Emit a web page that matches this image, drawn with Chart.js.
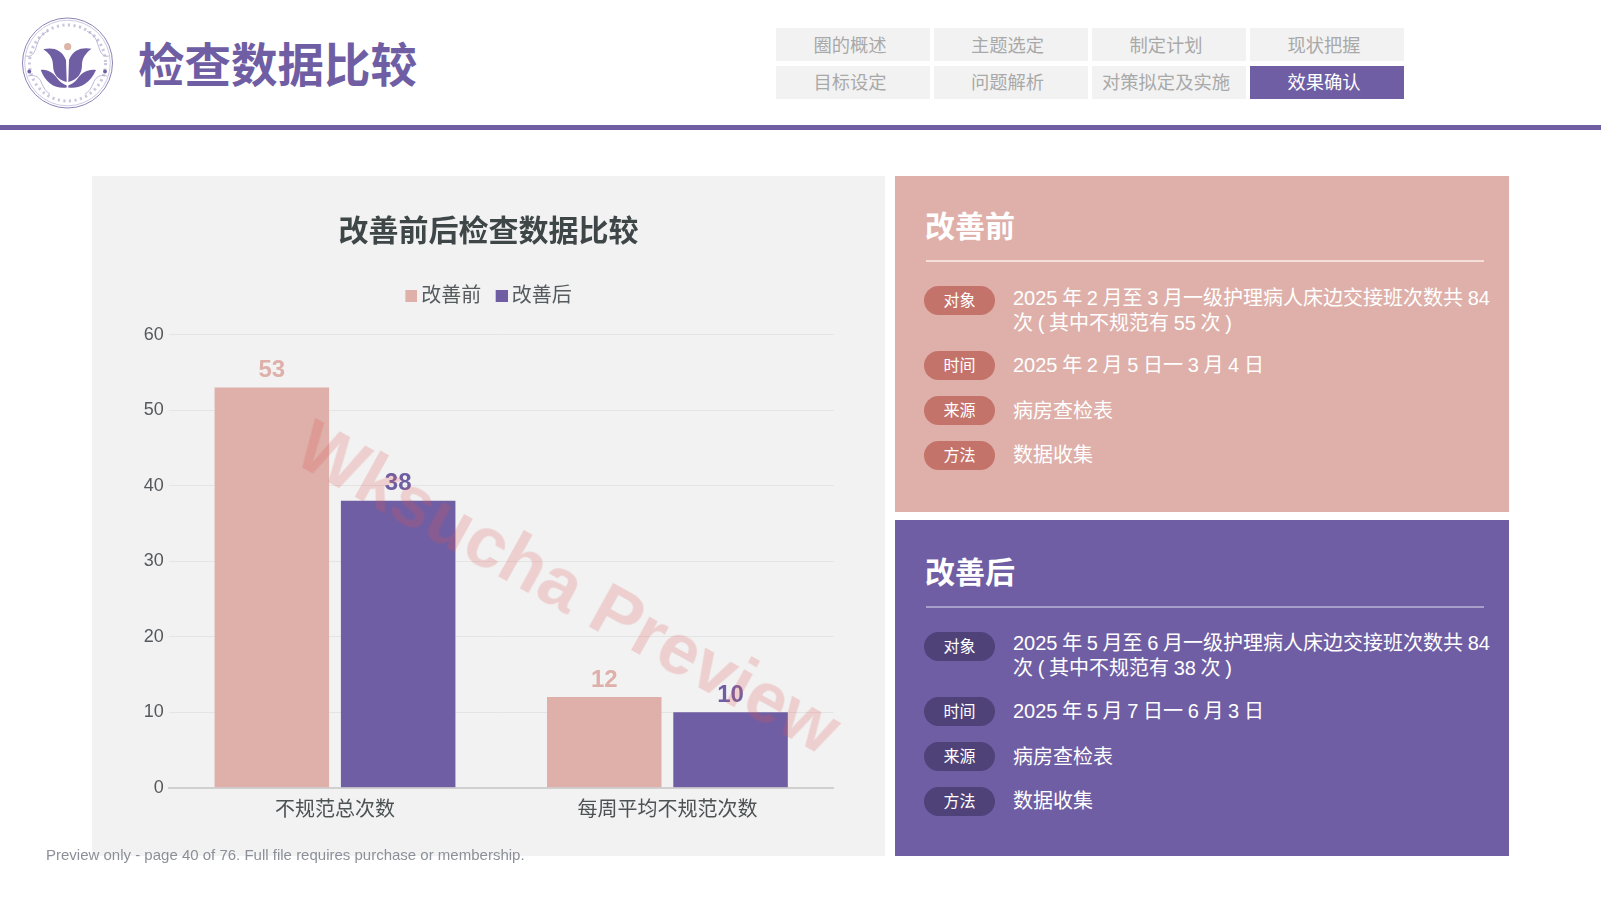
<!DOCTYPE html>
<html lang="zh"><head><meta charset="utf-8"><title>检查数据比较</title>
<script src="https://cdn.jsdelivr.net/npm/chart.js@4"></script>
<style>
*{box-sizing:border-box}
html,body{margin:0;padding:0;background:#fff;width:1601px;height:900px;overflow:hidden;font-family:"Liberation Sans","Noto Sans CJK SC",sans-serif}
.abs{position:absolute}
#h1{left:138px;top:33px;font-size:46.5px;line-height:66px;font-weight:700;color:#6f5ea3;white-space:nowrap}
#rule{left:0;top:125px;width:1601px;height:5px;background:#6f5ea3}
.tab{position:absolute;width:154px;height:33.5px;background:#f2f2f2;color:#a9a9a9;font-size:18.3px;text-align:center;white-space:nowrap;padding-right:6px}
.tab.on{background:#6f5ea3;color:#fff}
#panel{left:92px;top:176px;width:793px;height:680px;background:#f2f2f2}
#wrap{left:92px;top:176px;width:793px;height:680px}
.card{position:absolute;left:895px;width:614px;height:336px;color:#fff}
.card h2{position:absolute;left:30px;margin:0;font-size:30px;line-height:42px;font-weight:700}
.card .ln{position:absolute;left:31px;width:558px;height:2px}
.pill{position:absolute;left:29px;width:71px;height:29px;border-radius:14.5px;font-size:16px;line-height:29px;text-align:center}
.txt{position:absolute;left:118px;font-size:20px;word-spacing:-.9px;line-height:24.5px;white-space:nowrap}
#wm{left:569px;top:587px;transform:translate(-50%,-50%) rotate(29deg);font-size:72px;line-height:80px;font-weight:700;color:rgba(222,84,84,.22);white-space:nowrap;pointer-events:none}
#foot{left:46px;top:845px;font-size:15px;line-height:20px;color:#8b9098;white-space:nowrap}
</style></head><body>
<svg class="abs" style="left:20px;top:16px" width="96" height="96" viewBox="0 0 96 96">
 <circle cx="47.5" cy="47" r="45" fill="#fff" stroke="#8d83b6" stroke-width="1"/>
 <circle cx="47.5" cy="47" r="42.8" fill="none" stroke="#b9b2d2" stroke-width=".7"/>
 <circle cx="47.5" cy="47" r="38" fill="none" stroke="#8d83b6" stroke-width="3" stroke-dasharray="2.2 3.4" opacity=".45"/>
 <path d="M6 40C14 42 15 34 18 26C20 20 24 17 28 15 M89 40C81 42 80 34 77 26C75 20 71 17 67 15 M8 60C16 58 20 62 22 68C24 72 26 76 30 78 M87 60C79 58 75 62 73 68C71 72 69 76 65 78" fill="none" stroke="#b0a9cc" stroke-width=".8"/>
 <circle cx="47.7" cy="30.7" r="3.6" fill="#dcb5a6"/>
 <path d="M23.3 33.3C32 31 42 33 46 44L46.7 66C38 64 33 58 33 49C33 42 29 37 23.3 33.3Z" fill="#6f5ea3"/>
 <path d="M71.5 32.8C63 31 53 33 49 44L48.3 66C57 64 62 58 62 49C62 42 66 37 71.5 32.8Z" fill="#6f5ea3"/>
 <path d="M20.7 54C28 53 33 57 37 62C40 66 43 68 46.7 69.5V71.5C36 73 26 68 20.7 54Z" fill="#6f5ea3"/>
 <path d="M76 54C67 53 62 57 58 62C55 66 52 68 48.3 69.5V71.5C59 73 70 68 76 54Z" fill="#6f5ea3"/>
 <circle cx="9.3" cy="55.5" r="1.9" fill="#6f5ea3"/><circle cx="85" cy="55.5" r="1.9" fill="#6f5ea3"/>
</svg>
<div id="h1" class="abs">检查数据比较</div>
<div id="rule" class="abs"></div>
<div id="tabs"></div>
<div id="panel" class="abs"></div>
<div id="wrap" class="abs"><canvas id="c" width="793" height="680"></canvas></div>
<div id="cards"></div>
<div id="wm" class="abs">Wksucha Preview</div>
<div id="foot" class="abs">Preview only - page 40 of 76. Full file requires purchase or membership.</div>
<script>
const pageTitle = "检查数据比较";
const chartTitle = "改善前后检查数据比较";
const categories = ["不规范总次数", "每周平均不规范次数"];
const seriesNames = ["改善前", "改善后"];
const beforeValues = [53, 12];
const afterValues = [38, 10];
const yTicks = [0, 10, 20, 30, 40, 50, 60];
const navLabels = ["圈的概述","主题选定","制定计划","现状把握","目标设定","问题解析","对策拟定及实施","效果确认"];
const rowLabels = ["对象","时间","来源","方法"];
const beforeRows = [["2025 年 2 月至 3 月一级护理病人床边交接班次数共 84","次 ( 其中不规范有 55 次 )"],["2025 年 2 月 5 日一 3 月 4 日"],["病房查检表"],["数据收集"]];
const afterRows = [["2025 年 5 月至 6 月一级护理病人床边交接班次数共 84","次 ( 其中不规范有 38 次 )"],["2025 年 5 月 7 日一 6 月 3 日"],["病房查检表"],["数据收集"]];

const PINK="#deb0a9", PURPLE="#6f5ea3";
const FONT='"Liberation Sans","Noto Sans CJK SC",sans-serif';

// navigation tabs
const tabX=[776,933.5,1092,1250], tabY=[27.7,65.7], tabLine=[35.6,33.5];
document.getElementById("tabs").innerHTML = navLabels.map((t,i)=>
  `<div class="tab${i===7?' on':''}" style="left:${tabX[i%4]}px;top:${tabY[i>>2]}px;line-height:${tabLine[i>>2]}px">${t}</div>`).join("");

// info cards
const pillTop=[110,175.2,220,265], textTop=[110,177.2,223,267];
function card(top,dy,firstDy,bg,pillBg,lineBg,title,rows){
  let h=`<div class="card" style="top:${top}px;background:${bg}"><h2 style="top:${30+dy}px">${title}</h2><div class="ln" style="top:${84+dy}px;background:${lineBg}"></div>`;
  rowLabels.forEach((l,i)=>{
    h+=`<div class="pill" style="top:${pillTop[i]+dy}px;background:${pillBg}">${l}</div>`;
    h+=`<div class="txt" style="top:${textTop[i]+dy+(i===0?firstDy:0)}px">${rows[i].join("<br>")}</div>`;
  });
  return h+"</div>";
}
document.getElementById("cards").innerHTML =
  card(176,0,0,PINK,"#c4736a","#f5dfd9",seriesNames[0],beforeRows)+
  card(520,2,-1,PURPLE,"#4f4279","#a99fcb",seriesNames[1],afterRows);

// legend swatch: a 12px square sitting in a wider transparent canvas so the label sits close
function swatch(color){
  const cv=document.createElement("canvas");cv.width=18;cv.height=12;
  const x=cv.getContext("2d");x.fillStyle=color;x.fillRect(6,0,12,12);
  return cv;
}

// value labels drawn from the library's own bar elements
const valueLabels={id:"valueLabels",afterDatasetsDraw(chart){
  const ctx=chart.ctx;
  chart.data.datasets.forEach((ds,i)=>{
    chart.getDatasetMeta(i).data.forEach((bar,j)=>{
      ctx.save();
      ctx.font='700 24px '+FONT;
      ctx.fillStyle=ds.backgroundColor;
      ctx.textAlign="center";ctx.textBaseline="bottom";
      ctx.fillText(ds.data[j],bar.x,bar.y-5);
      ctx.restore();
    });
  });
}};

new Chart(document.getElementById("c"),{
  type:"bar",
  data:{labels:categories,datasets:[
    {label:seriesNames[0],data:beforeValues,backgroundColor:PINK,categoryPercentage:.76,barPercentage:.9066},
    {label:seriesNames[1],data:afterValues,backgroundColor:PURPLE,categoryPercentage:.76,barPercentage:.9066}
  ]},
  options:{
    responsive:false,animation:false,
    layout:{padding:{left:51.4,right:51.4,top:39,bottom:0}},
    plugins:{
      title:{display:true,text:chartTitle,color:"#3f4648",font:{family:FONT,size:30,weight:"700",lineHeight:1.2},padding:{top:0,bottom:21}},
      subtitle:{display:true,text:"",weight:500,font:{family:FONT,size:10,lineHeight:1},padding:{top:0,bottom:8.4}},
      legend:{display:true,position:"top",align:"center",labels:{
        usePointStyle:true,boxWidth:12,boxHeight:12,pointStyleWidth:6,padding:14.3,color:"#555b5e",
        font:{family:FONT,size:20,lineHeight:1.2},
        generateLabels(chart){
          return chart.data.datasets.map((ds,i)=>({text:ds.label,datasetIndex:i,pointStyle:swatch(ds.backgroundColor),fillStyle:ds.backgroundColor,strokeStyle:"transparent",lineWidth:0,fontColor:"#555b5e",hidden:false}));
        }}},
      tooltip:{enabled:false}
    },
    scales:{
      x:{grid:{display:false},border:{color:"#d0d0d0",width:2},
         ticks:{color:"#4d5255",font:{family:FONT,size:20},padding:3,maxRotation:0},
         afterFit(s){s.height=68.3}},
      y:{min:0,max:60,afterBuildTicks(s){s.ticks=yTicks.map(v=>({value:v}))},
         grid:{color:"#e4e4e4",lineWidth:1,drawTicks:false},border:{display:false},
         ticks:{color:"#55595c",font:{family:FONT,size:18},padding:5},
         afterFit(s){s.width=25.4}}
    }
  },
  plugins:[valueLabels]
});
</script>
</body></html>
